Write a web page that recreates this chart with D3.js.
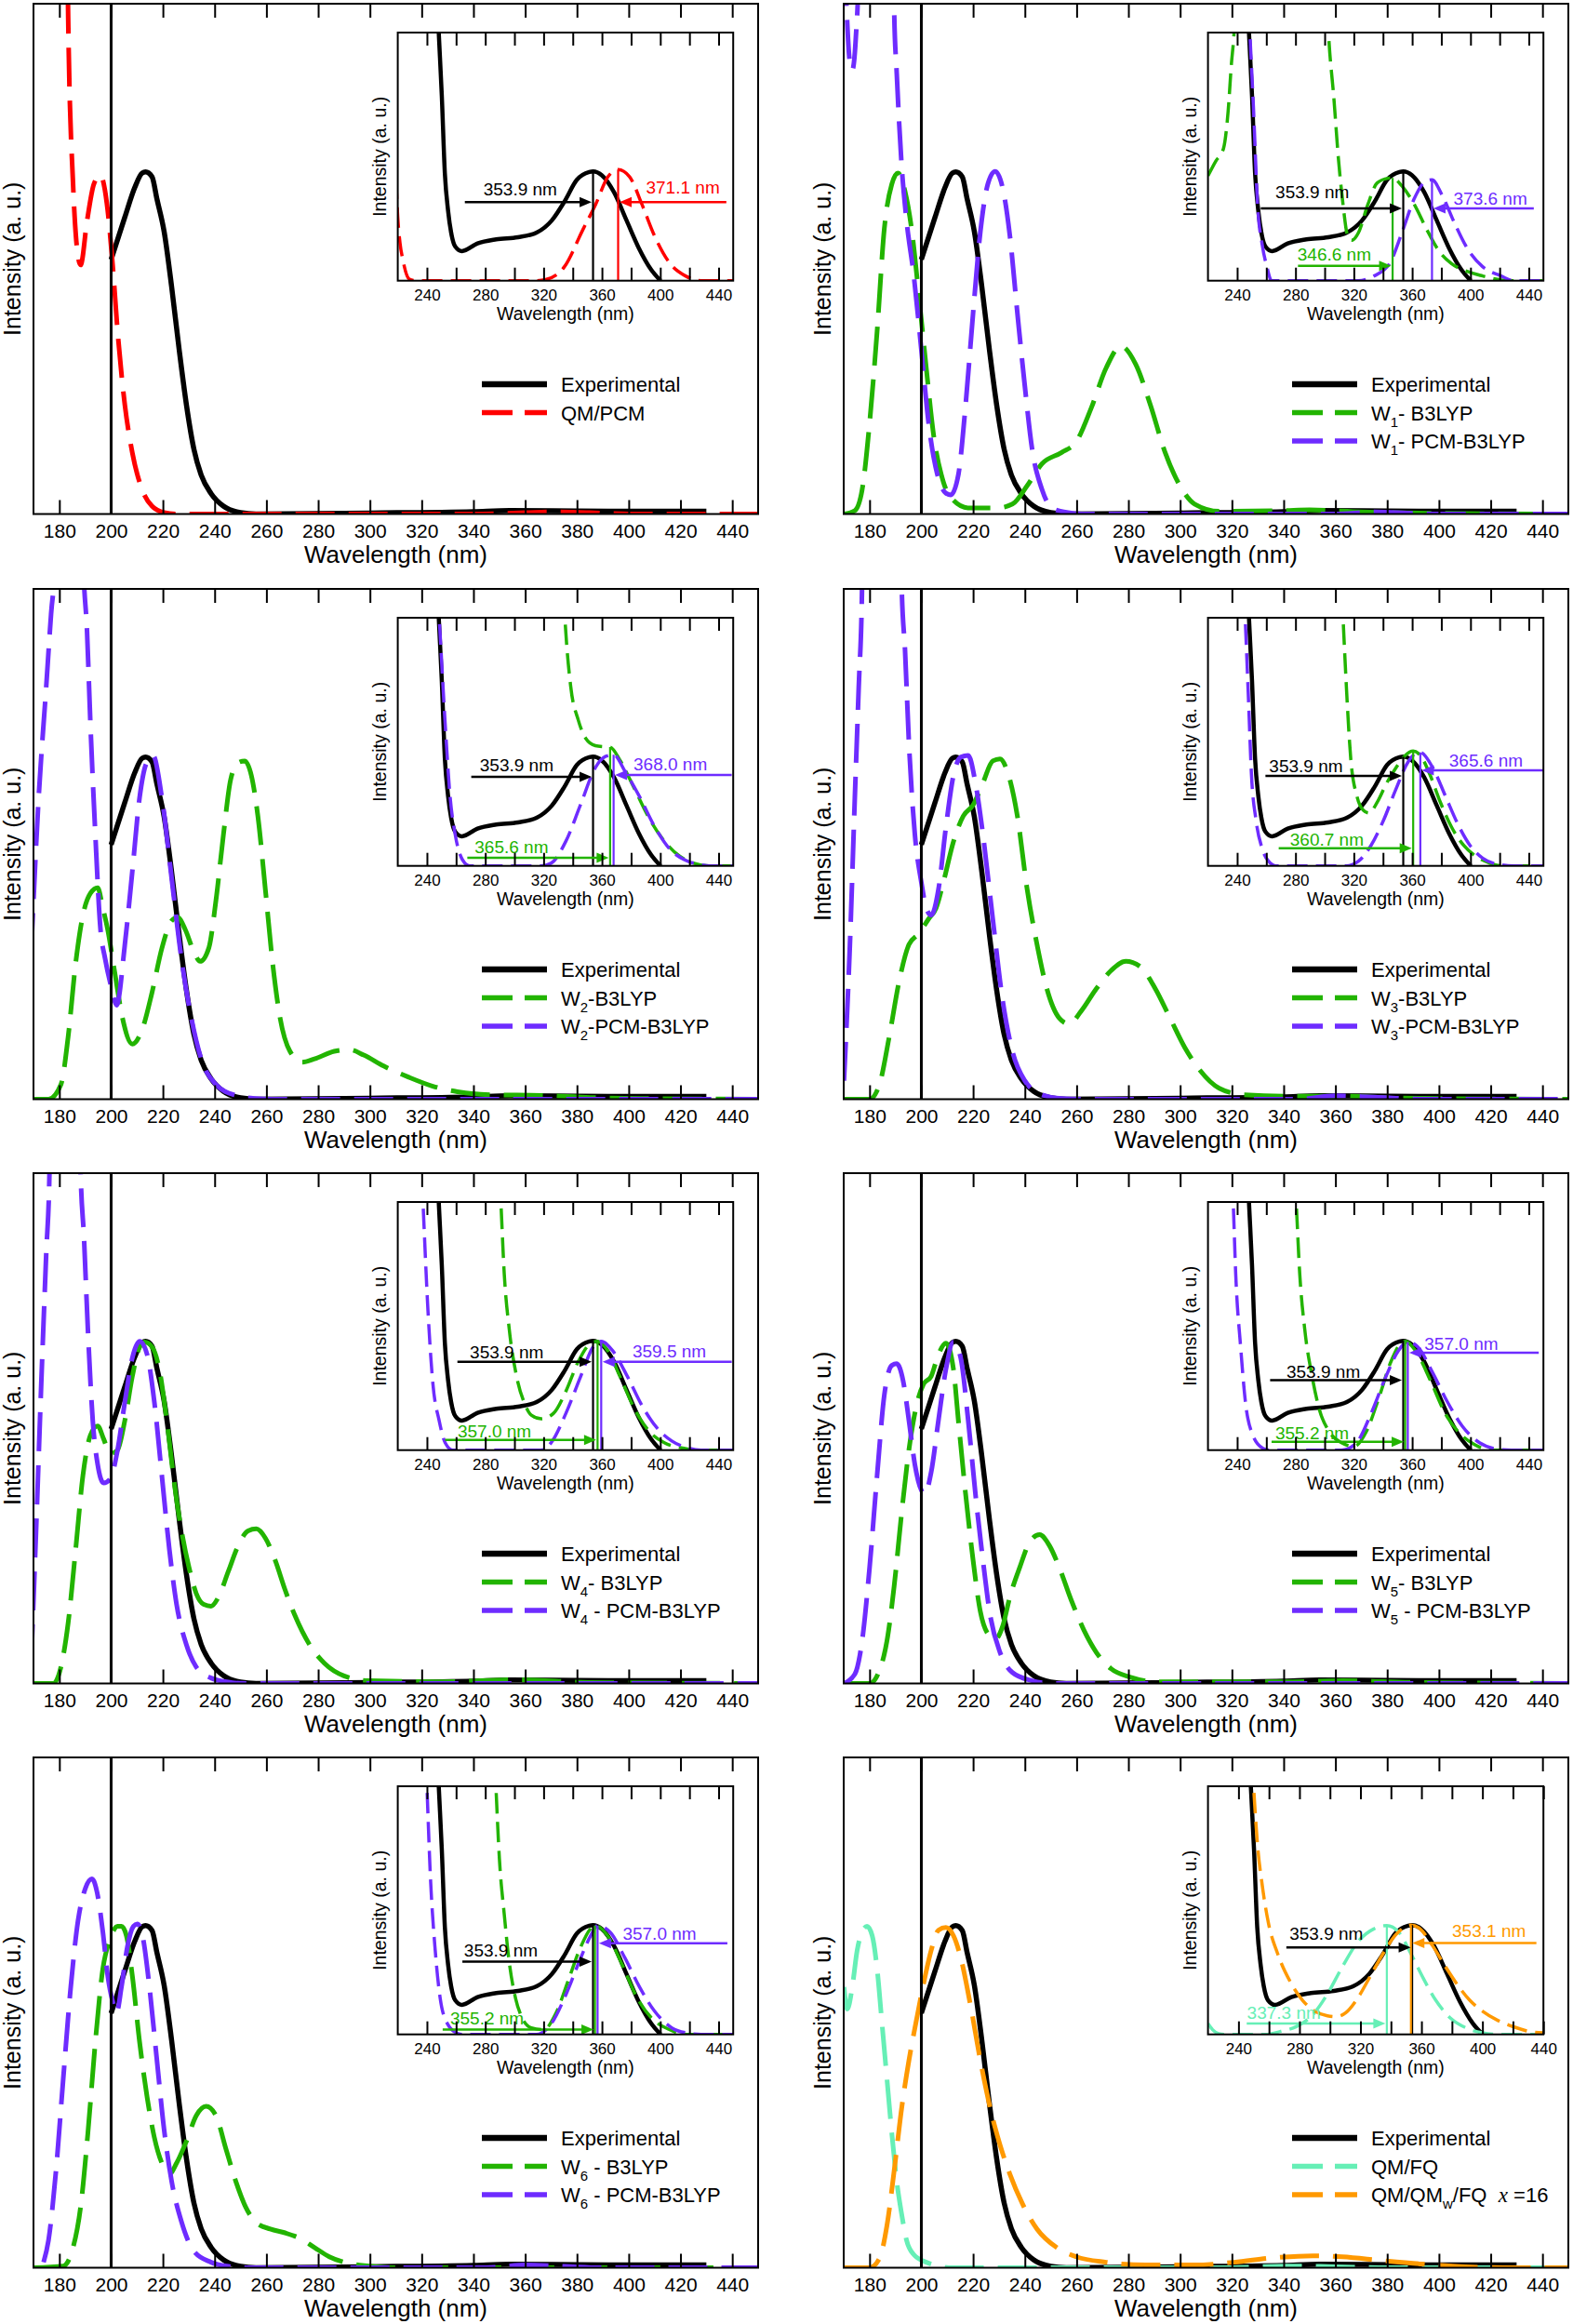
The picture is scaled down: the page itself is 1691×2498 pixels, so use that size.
<!DOCTYPE html>
<html><head><meta charset="utf-8">
<script src="https://cdn.jsdelivr.net/npm/d3@7"></script>
<style>body{margin:0;background:#fff;} svg{display:block;} text{font-family:"Liberation Sans",Arial,Helvetica,sans-serif;white-space:pre;}</style>
</head><body><svg id="c" width="1691" height="2498"></svg>
<script>
// ---------------- DATA (wavelength nm, normalised intensity) ----------------
const tickMain = [180,200,220,240,260,280,300,320,340,360,380,400,420,440];
const tickInset = [240,260,280,300,320,340,360,380,400,420,440];

const expMain = [[200,0.744],[205.3,0.868],[209.1,0.954],[212,0.997],[213.3,1.0],[215.8,0.986],[217.7,0.921],[220.5,0.825],[223.4,0.663],[226.3,0.48],[229.1,0.319],[232,0.189],[234.8,0.114],[238.6,0.06],[243.4,0.023],[250,0.004],[256,0.0],[300,0.003],[340,0.007],[354,0.01],[380,0.009],[410,0.008],[430,0.008]];
const expInset = [[244,3.5],[248.1,2.27],[250.2,1.69],[252.3,0.98],[254.5,0.64],[256.6,0.44],[259.4,0.312],[264,0.27],[274.7,0.341],[287.5,0.378],[302.4,0.398],[315.2,0.44],[325.8,0.554],[334.3,0.724],[342.8,0.923],[351.3,0.994],[353.9,1.0],[359.8,0.966],[368.3,0.809],[376.8,0.554],[385.3,0.298],[393.8,0.099],[400.2,0.0]];

const qmpcmMain = [[181,4],[183.4,1.454],[185.3,0.964],[186.9,0.771],[188.2,0.728],[190.7,0.857],[193.3,0.964],[195.8,0.991],[198.3,0.911],[200.6,0.728],[202.5,0.534],[205.3,0.319],[208.2,0.179],[212,0.071],[215.8,0.023],[220.5,0.004],[225,0],[340,0],[360,0.004],[371,0.006],[385,0.004],[400,0],[450,0]];
const qmpcmInset = [[218,1.2],[220,0.58],[221.5,0.35],[223.6,0.185],[227.9,0.014],[232,0],[315,0],[321.5,0.01],[334.3,0.128],[347,0.469],[355.6,0.696],[364.1,0.95],[371.1,1.017],[379,0.95],[387.5,0.696],[396,0.412],[406.7,0.157],[417.3,0.043],[428,0],[450,0]];

const w1B3Main = [[170,0],[174.3,0.01],[177.1,0.07],[180,0.266],[182.9,0.534],[185.7,0.835],[188.6,0.965],[191,0.997],[193.7,0.943],[196.2,0.835],[199,0.642],[201.9,0.427],[204.7,0.233],[208.5,0.094],[212.4,0.04],[218,0.018],[229.5,0.018],[235.2,0.029],[240.9,0.083],[246.6,0.147],[254.2,0.18],[259.9,0.212],[265.6,0.309],[271.4,0.427],[277.1,0.491],[282.8,0.438],[288.5,0.319],[294.2,0.18],[299.9,0.083],[305.6,0.029],[315.1,0.008],[340,0.01],[350,0.012],[370,0.006],[400,0.002],[450,0]];
const w1PcmMain = [[170.5,1.6],[172.4,1.319],[173.3,1.298],[174.7,1.395],[175.8,1.6],[177,2.5],[188.5,2.5],[189.5,1.47],[190.5,1.287],[192.4,1.018],[194.3,0.857],[197.1,0.696],[200,0.48],[202.8,0.266],[206.6,0.104],[209.5,0.061],[211.4,0.056],[214.3,0.115],[217.1,0.319],[220,0.588],[222.8,0.825],[225.7,0.965],[228.5,1.002],[231.4,0.954],[234.2,0.814],[237.1,0.588],[240,0.373],[242.8,0.19],[246.6,0.072],[250.4,0.018],[256.1,0.005],[262,0],[360,0],[375,0.006],[390,0.002],[400,0],[450,0]];
const w1B3Inset = [[220,0.96],[225.3,1.093],[230.6,1.207],[233.8,1.547],[236,1.973],[238,2.3],[240,3],[300,3],[303,2.186],[306.2,1.689],[309.4,1.122],[312.6,0.696],[315.7,0.412],[318.5,0.369],[323.2,0.44],[329.6,0.696],[336,0.894],[343.4,0.937],[346.6,0.94],[353,0.866],[361.5,0.696],[370,0.468],[378.5,0.27],[387,0.156],[397.7,0.085],[408.3,0.043],[421,0.006],[430,0],[450,0]];
const w1PcmInset = [[246,3],[248.7,2.27],[251.3,1.547],[254,0.696],[257.2,0.327],[260.4,0.128],[263.6,0],[323,0],[333.8,0.043],[344.5,0.156],[353,0.44],[361.5,0.752],[367.9,0.894],[373.6,0.923],[380.6,0.781],[389.1,0.525],[397.7,0.298],[408.3,0.128],[421,0.043],[429.6,0],[450,0]];

const w2B3Main = [[170,0],[175.8,0],[180.6,0.043],[183.4,0.183],[186.3,0.398],[189.1,0.538],[192,0.602],[194.8,0.618],[196.8,0.559],[198.7,0.495],[201.5,0.366],[204.4,0.237],[208.2,0.161],[212,0.204],[215.8,0.312],[219.6,0.441],[223.4,0.522],[225.7,0.532],[228.7,0.495],[232,0.43],[234.4,0.403],[237.7,0.441],[240.5,0.581],[243.4,0.774],[246.2,0.935],[249.1,0.984],[251.6,0.989],[254.2,0.946],[256.7,0.828],[259.6,0.613],[262.4,0.398],[265.3,0.237],[269.1,0.14],[273.8,0.108],[278.6,0.118],[286.2,0.14],[291.9,0.145],[297.6,0.129],[305.3,0.097],[314.8,0.065],[324.3,0.038],[333.8,0.022],[347.2,0.013],[366.2,0.011],[385.2,0.005],[404.3,0.002],[450,0]];
const w2PcmMain = [[169.1,0.43],[172,0.882],[174.9,1.204],[176.8,1.419],[178.7,1.6],[180,2.5],[188,2.5],[189.1,1.6],[190.7,1.366],[192,1.097],[193.9,0.774],[195.8,0.505],[197.7,0.41],[200,0.33],[202.1,0.275],[205.3,0.452],[208.2,0.667],[211,0.882],[213.5,0.98],[216.2,1.005],[219.6,0.882],[223.4,0.645],[227.2,0.409],[231,0.237],[234.8,0.118],[240.5,0.043],[248.2,0.011],[255.8,0.002],[262,0],[450,0]];
const w2B3Inset = [[332,3],[334.6,2.27],[338.6,1.64],[343.7,1.337],[348.8,1.168],[355.5,1.1],[361.6,1.09],[365.6,1.086],[372.4,0.966],[382.6,0.697],[392.7,0.428],[402.8,0.226],[413,0.091],[423.1,0.024],[433.2,0],[450,0]];
const w2PcmInset = [[245,3],[248.4,2.27],[252.5,1.303],[255.9,0.63],[259.3,0.293],[264.3,0.057],[269.4,0],[318.4,0],[325.1,0.024],[335.3,0.226],[345.4,0.562],[355.5,0.899],[362.3,1.0],[368,1.017],[375.8,0.865],[385.9,0.63],[396.1,0.36],[406.2,0.158],[416.4,0.057],[426.5,0.013],[435,0],[450,0]];

const w3B3Main = [[170,0],[180,0],[183.8,0.043],[187.6,0.183],[191.4,0.344],[195.2,0.452],[199,0.484],[202.8,0.527],[205.7,0.559],[208.5,0.634],[212.4,0.753],[216.2,0.828],[220,0.86],[223.8,0.925],[227.6,0.989],[230.4,0.995],[233.3,0.957],[237.1,0.828],[240.9,0.613],[244.7,0.452],[248.5,0.323],[253.3,0.237],[257.1,0.22],[261.8,0.258],[267.6,0.323],[273.3,0.376],[279,0.403],[284.7,0.387],[290.4,0.323],[296.1,0.237],[301.8,0.151],[307.5,0.086],[315.1,0.032],[324.7,0.013],[343.7,0.009],[362.7,0.009],[381.8,0.004],[400.8,0.002],[450,0]];
const w3PcmMain = [[170.1,0.054],[172.4,0.452],[174.3,0.882],[175.8,1.204],[177.1,1.5],[178.5,2.5],[191,2.5],[192.4,1.5],[193.7,1.312],[195.2,1.043],[197.5,0.774],[200,0.634],[201.9,0.559],[203.8,0.538],[206.6,0.613],[209.5,0.796],[212.4,0.946],[215.2,1.0],[218.1,1.005],[220.9,0.925],[223.8,0.774],[227.6,0.527],[231.4,0.29],[235.2,0.14],[240,0.054],[246.6,0.013],[254.2,0.002],[262,0],[345,0],[360,0.01],[375,0.006],[395,0],[450,0]];
const w3B3Inset = [[310,3],[312.6,2.27],[314.7,1.689],[317.9,0.98],[322.1,0.639],[326.4,0.511],[330.6,0.483],[336,0.582],[342.3,0.752],[348.7,0.894],[355.1,1.008],[360.7,1.05],[365.7,1.008],[372.1,0.838],[378.5,0.61],[387,0.355],[395.5,0.185],[404,0.085],[412.6,0.028],[421,0],[450,0]];
const w3PcmInset = [[243,3],[245.5,2.27],[247.7,1.547],[249.8,0.838],[253,0.412],[257.2,0.156],[261.5,0.043],[266.8,0],[314.7,0],[323.2,0.043],[331.7,0.185],[340.2,0.412],[348.7,0.696],[357.2,0.951],[363.6,1.036],[365.6,1.038],[374.3,0.894],[382.8,0.639],[391.3,0.383],[399.8,0.185],[408.3,0.071],[418.9,0.014],[429.6,0],[450,0]];

const w4B3Main = [[170,0],[177.7,0],[180.6,0.048],[183.4,0.177],[186.3,0.392],[189.1,0.608],[192,0.726],[194.8,0.753],[197.1,0.715],[199.6,0.672],[202.5,0.683],[205.3,0.769],[208.2,0.898],[211,0.984],[212.9,0.998],[215.8,0.984],[218.6,0.919],[221.5,0.769],[224.4,0.586],[227.2,0.446],[230.1,0.339],[232.9,0.263],[235.8,0.231],[238.6,0.226],[241.5,0.253],[245.3,0.328],[249.1,0.403],[252.9,0.446],[256.1,0.452],[259.6,0.425],[263.4,0.36],[267.2,0.274],[271,0.199],[276.7,0.113],[282.4,0.059],[290,0.022],[299.6,0.008],[328.1,0.005],[356.7,0.011],[385.2,0.003],[450,0]];
const w4PcmMain = [[169.1,0.059],[171,0.446],[173,0.876],[174.9,1.253],[176.2,1.5],[177.5,2.5],[187,2.5],[188.2,1.5],[189.5,1.306],[191,1.038],[192.9,0.769],[194.8,0.64],[197.1,0.586],[199.6,0.597],[202.5,0.683],[205.3,0.823],[208.2,0.952],[211,1.0],[213.9,0.962],[216.7,0.823],[219.6,0.608],[222.5,0.392],[225.3,0.231],[229.1,0.113],[232.9,0.048],[238.6,0.016],[246.2,0.003],[252,0],[450,0]];
const w4B3Inset = [[288,3],[290.7,2.27],[293,1.616],[296.4,1.111],[301.5,0.673],[306.6,0.438],[311.6,0.32],[318.4,0.286],[326.8,0.337],[335.3,0.539],[343.7,0.808],[352.2,0.976],[357,0.995],[364,0.909],[372.4,0.673],[382.6,0.37],[392.7,0.168],[402.8,0.067],[416.4,0.017],[425,0],[450,0]];
const w4PcmInset = [[235,3],[237.3,2.27],[240.7,1.279],[244.1,0.606],[248.4,0.269],[252.5,0.067],[257.6,0],[318.4,0],[325.1,0.067],[335.3,0.337],[345.4,0.673],[353.9,0.943],[359.5,0.995],[367.4,0.909],[377.5,0.673],[387.6,0.404],[397.8,0.202],[407.9,0.084],[419.7,0.017],[428,0],[450,0]];

const w5B3Main = [[170,0],[180,0],[183.8,0.038],[186.7,0.124],[189.5,0.285],[192.4,0.5],[195.2,0.683],[198.1,0.812],[200.9,0.876],[203.8,0.898],[206.6,0.962],[209.5,0.995],[212.4,0.919],[214.3,0.769],[217.1,0.554],[220,0.36],[222.8,0.21],[225.7,0.145],[228.5,0.129],[231.4,0.167],[234.2,0.253],[238,0.339],[241.9,0.414],[245.7,0.435],[249.5,0.403],[253.3,0.339],[258,0.242],[262.8,0.156],[267.6,0.091],[273.3,0.043],[280.9,0.018],[290.4,0.005],[343.7,0.005],[362.7,0.008],[390,0.003],[450,0]];
const w5PcmMain = [[170.1,0],[174.3,0.027],[177.1,0.124],[180,0.339],[182.9,0.608],[185.7,0.844],[188.6,0.93],[190.5,0.935],[192.9,0.887],[195.2,0.769],[197.5,0.64],[200,0.565],[201.3,0.554],[203.8,0.618],[206.6,0.769],[209.5,0.919],[212.4,0.998],[215.2,0.952],[218.1,0.769],[220.9,0.554],[223.8,0.36],[226.6,0.199],[230.4,0.091],[235.2,0.032],[242.8,0.008],[250,0],[450,0]];
const w5B3Inset = [[278,3],[280.5,2.27],[282.9,1.616],[286.3,1.111],[291.4,0.673],[296.4,0.37],[303.2,0.168],[311.6,0.067],[320.1,0.034],[328.5,0.168],[337,0.471],[345.4,0.808],[352.2,0.976],[355.2,0.995],[362.3,0.909],[372.4,0.64],[382.6,0.337],[392.7,0.152],[402.8,0.051],[415,0],[450,0]];
const w5PcmInset = [[235,3],[237.3,2.27],[239,1.616],[242.4,0.943],[245.7,0.438],[250.8,0.135],[257.6,0.017],[262,0],[311.6,0],[321.8,0.067],[331.9,0.337],[342,0.673],[350.5,0.909],[357,0.99],[364,0.943],[374.1,0.707],[384.3,0.438],[394.4,0.219],[406.2,0.067],[419.7,0.007],[428,0],[450,0]];

const w6B3Main = [[170,0],[181.5,0.005],[185.3,0.059],[188.2,0.177],[191,0.392],[193.9,0.66],[196.8,0.874],[199.6,0.96],[202.5,0.998],[204,0.998],[205.9,0.971],[208.2,0.853],[211,0.66],[213.9,0.499],[216.7,0.381],[219.6,0.306],[222.5,0.274],[225.3,0.306],[229.1,0.37],[232.9,0.445],[236.7,0.472],[240.5,0.445],[244.3,0.349],[248.2,0.252],[252,0.177],[255.8,0.134],[261.5,0.113],[267.2,0.102],[272.9,0.086],[278.6,0.059],[284.3,0.032],[290,0.016],[299.6,0.005],[310,0],[450,0]];
const w6PcmMain = [[173.9,0.016],[175.8,0.08],[178.7,0.284],[181.5,0.553],[184.4,0.821],[187.2,1.014],[190.1,1.11],[192.6,1.137],[194.8,1.089],[196.8,0.982],[198.7,0.853],[200.6,0.778],[202.1,0.746],[204,0.821],[206.3,0.939],[208.6,0.998],[210.1,1.005],[212.4,0.96],[214.8,0.821],[217.7,0.606],[220.5,0.402],[223.4,0.252],[227.2,0.134],[232,0.048],[238.6,0.016],[246.2,0.003],[252,0],[345,0],[360,0.008],[375,0.004],[390,0],[450,0]];
const w6B3Inset = [[285,3],[287.3,2.27],[289.7,1.605],[293,1.101],[296.4,0.665],[300.8,0.329],[304.9,0.161],[311.6,0.06],[320.1,0.044],[328.5,0.195],[337,0.497],[345.4,0.799],[352.2,0.967],[355.2,0.995],[364,0.9],[374.1,0.631],[384.3,0.329],[394.4,0.144],[406.2,0.044],[418,0],[450,0]];
const w6PcmInset = [[238,3],[240,2.27],[242.4,1.437],[245.7,0.766],[249.1,0.329],[254.2,0.094],[260.9,0.01],[265,0],[315,0],[325.1,0.094],[335.3,0.363],[345.4,0.698],[352.2,0.9],[357,0.995],[365.7,0.934],[375.8,0.698],[385.9,0.43],[396.1,0.212],[407.9,0.06],[419.7,0.01],[428,0],[450,0]];

const fqMain = [[170.1,0.821],[171.4,0.756],[173.3,0.821],[175.2,0.928],[177.1,0.982],[179,0.998],[181,0.971],[182.9,0.874],[184.8,0.714],[186.7,0.553],[188.6,0.392],[190.5,0.252],[192.4,0.156],[194.3,0.08],[197.1,0.038],[201.9,0.016],[206.6,0.005],[212,0],[320,0],[340,0.005],[360,0.003],[380,0],[450,0]];
const qmwMain = [[170,0],[180,0],[183.8,0.027],[186.7,0.123],[189.5,0.284],[192.4,0.467],[195.2,0.606],[198.1,0.724],[200.9,0.832],[203.8,0.928],[206.6,0.987],[209.5,0.995],[212.4,0.971],[215.2,0.907],[219,0.767],[222.8,0.606],[226.6,0.467],[230.4,0.359],[234.2,0.274],[239,0.188],[244.7,0.113],[252.3,0.059],[259.9,0.032],[271.4,0.016],[286.6,0.008],[305.6,0.008],[320.8,0.016],[336.1,0.029],[351.3,0.035],[362.7,0.032],[377.9,0.021],[393.2,0.011],[410.3,0.003],[425,0],[450,0]];
const fqInset = [[220,0.099],[223,0.043],[227.1,0.006],[232,0],[257.6,0],[267.8,0.028],[277.9,0.071],[288.1,0.17],[298.3,0.369],[308.4,0.625],[318.6,0.852],[328.7,0.965],[337.3,0.995],[345,0.937],[353.1,0.738],[361.3,0.511],[369.4,0.312],[379.6,0.142],[389.7,0.057],[399.9,0.014],[410,0],[440,0]];
const qmwInset = [[247,3],[249.9,2.27],[252.5,1.732],[255.6,1.363],[259.6,1.022],[265.7,0.738],[273.9,0.483],[282,0.312],[290.1,0.213],[298.3,0.17],[304.3,0.162],[310.4,0.199],[318.6,0.341],[326.7,0.539],[334.8,0.738],[343,0.909],[351.1,0.994],[353.1,1.0],[359.2,0.965],[367.4,0.809],[375.5,0.625],[383.6,0.454],[391.7,0.312],[399.9,0.213],[410,0.128],[420.2,0.071],[430.4,0.028],[440,0.014]];

// peak annotations: [peak nm, line top, arrow start nm, arrow level, label x, label y, text]
const expPeak = 353.9;
const expAnn = [
  [266,0.719,304,0.78],[256.2,0.662,291.5,0.752],[270.4,0.815,301.5,0.865],[259.4,0.823,287.2,0.857],
  [260.9,0.808,294.7,0.842],[262.6,0.64,299.1,0.66],[264.3,0.665,290.7,0.709],[271.4,0.795,297.6,0.866]];

const C = {exp:"#000000", red:"#ff0000", green:"#22b400", purple:"#6e2cff", mint:"#66efb6", orange:"#ff9900"};

const panels = [
 {col:0,row:0,insetMax:450,series:[
   {main:qmpcmMain,inset:qmpcmInset,color:C.red,label:["QM/PCM"],ann:[371.1,1.017,445.3,0.719,415.5,0.795,"371.1 nm"]}]},
 {col:1,row:0,insetMax:450,series:[
   {main:w1B3Main,inset:w1B3Inset,color:C.green,label:["W",{sub:"1"},"- B3LYP"],ann:[346.6,0.94,281.7,0.136,306.6,0.185,"346.6 nm"]},
   {main:w1PcmMain,inset:w1PcmInset,color:C.purple,label:["W",{sub:"1"},"- PCM-B3LYP"],ann:[373.6,0.923,443.4,0.662,413.6,0.696,"373.6 nm"]}]},
 {col:0,row:1,insetMax:450,series:[
   {main:w2B3Main,inset:w2B3Inset,color:C.green,label:["W",{sub:"2"},"-B3LYP"],ann:[365.6,1.086,267.7,0.074,298,0.118,"365.6 nm"]},
   {main:w2PcmMain,inset:w2PcmInset,color:C.purple,label:["W",{sub:"2"},"-PCM-B3LYP"],ann:[368.0,1.017,449,0.832,406.9,0.875,"368.0 nm"]}]},
 {col:1,row:1,insetMax:450,series:[
   {main:w3B3Main,inset:w3B3Inset,color:C.green,label:["W",{sub:"3"},"-B3LYP"],ann:[360.7,1.05,268.5,0.162,301.5,0.185,"360.7 nm"]},
   {main:w3PcmMain,inset:w3PcmInset,color:C.purple,label:["W",{sub:"3"},"-PCM-B3LYP"],ann:[365.6,1.038,450,0.874,410.6,0.909,"365.6 nm"]}]},
 {col:0,row:2,insetMax:450,series:[
   {main:w4B3Main,inset:w4B3Inset,color:C.green,label:["W",{sub:"4"},"- B3LYP"],ann:[357.0,0.995,252.5,0.094,286.3,0.118,"357.0 nm"]},
   {main:w4PcmMain,inset:w4PcmInset,color:C.purple,label:["W",{sub:"4"}," - PCM-B3LYP"],ann:[359.5,0.995,449,0.808,406.2,0.848,"359.5 nm"]}]},
 {col:1,row:2,insetMax:450,series:[
   {main:w5B3Main,inset:w5B3Inset,color:C.green,label:["W",{sub:"5"},"- B3LYP"],ann:[355.2,0.995,263.6,0.077,291.4,0.101,"355.2 nm"]},
   {main:w5PcmMain,inset:w5PcmInset,color:C.purple,label:["W",{sub:"5"}," - PCM-B3LYP"],ann:[357.0,0.99,446.8,0.892,393.7,0.916,"357.0 nm"]}]},
 {col:0,row:3,insetMax:450,series:[
   {main:w6B3Main,inset:w6B3Inset,color:C.green,label:["W",{sub:"6"}," - B3LYP"],ann:[355.2,0.995,250.8,0.044,281.2,0.094,"355.2 nm"]},
   {main:w6PcmMain,inset:w6PcmInset,color:C.purple,label:["W",{sub:"6"}," - PCM-B3LYP"],ann:[357.0,0.995,446,0.833,399.5,0.866,"357.0 nm"]}]},
 {col:1,row:3,insetMax:440,series:[
   {main:fqMain,inset:fqInset,color:C.mint,label:["QM/FQ"],ann:[337.3,0.995,245.4,0.099,269.8,0.142,"337.3 nm"]},
   {main:qmwMain,inset:qmwInset,color:C.orange,label:["QM/QM",{sub:"w"},"/FQ  ",{it:"x"}," =16"],ann:[353.1,1.0,435.4,0.835,404.3,0.894,"353.1 nm"]}]}
];

// ---------------- LAYOUT ----------------
const FONT = '"Liberation Sans", Arial, Helvetica, sans-serif';
const colX = [36, 907], rowY = [4, 633, 1261, 1889];
const PW = 779, PH = 548.5;
const INS = {x: 391.6, y: 31, w: 360.6, h: 266.7};
const svg = d3.select("#c");
const defs = svg.append("defs");

function axes(g, x, h, vals, fmt, len, fs, labY) {
  const b = g.append("g").attr("transform", `translate(0,${h})`)
    .call(d3.axisBottom(x).tickValues(vals).tickSizeInner(-len).tickSizeOuter(0).tickFormat(fmt));
  b.select(".domain").remove();
  b.selectAll("line").attr("stroke", "#000").attr("stroke-width", 2);
  b.selectAll("text").attr("dy", null).attr("y", labY).attr("font-size", fs)
    .attr("font-family", FONT).attr("fill", "#000");
  const t = g.append("g")
    .call(d3.axisTop(x).tickValues(vals).tickSizeInner(-len).tickSizeOuter(0).tickFormat(""));
  t.select(".domain").remove();
  t.selectAll("line").attr("stroke", "#000").attr("stroke-width", 2);
}

function richText(t, parts, fs) {
  let shift = 0;
  parts.forEach(p => {
    if (typeof p === "string") {
      t.append("tspan").attr("dy", -shift).text(p); shift = 0;
    } else if (p.sub) {
      t.append("tspan").attr("dy", 7 - shift).attr("font-size", fs * 0.68).text(p.sub); shift = 7;
    } else if (p.it) {
      t.append("tspan").attr("dy", -shift).attr("font-family", '"Liberation Serif", "Times New Roman", serif')
        .attr("font-style", "italic").attr("font-size", fs * 1.05).text(p.it); shift = 0;
    }
  });
}

function arrowHead(g, tipX, y, dir, color) {
  const L = 13, Hw = 5.5;
  g.append("path")
    .attr("d", `M${tipX},${y}L${tipX - dir * L},${y - Hw}L${tipX - dir * L},${y + Hw}Z`)
    .attr("fill", color);
}

panels.forEach((p, pi) => {
  const g = svg.append("g").attr("transform", `translate(${colX[p.col]},${rowY[p.row]})`);
  const x = d3.scaleLinear().domain([170, 450]).range([0, PW]);
  const y = d3.scaleLinear().domain([0, 1.492]).range([PH, 0]);
  const cid = "clipM" + pi;
  defs.append("clipPath").attr("id", cid).append("rect").attr("width", PW).attr("height", PH);
  const line = d3.line().x(d => x(d[0])).y(d => y(d[1])).curve(d3.curveMonotoneX);

  const plot = g.append("g").attr("clip-path", `url(#${cid})`);
  plot.append("path").datum(expMain).attr("d", line).attr("fill", "none")
    .attr("stroke", C.exp).attr("stroke-width", 5.5).attr("stroke-linejoin", "round");
  p.series.forEach(s => {
    plot.append("path").datum(s.main).attr("d", line).attr("fill", "none")
      .attr("stroke", s.color).attr("stroke-width", 5).attr("stroke-dasharray", "42,15");
  });
  plot.append("line").attr("x1", x(200)).attr("x2", x(200)).attr("y1", y(0)).attr("y2", 0)
    .attr("stroke", "#000").attr("stroke-width", 3);

  // axes + frame
  axes(g, x, PH, tickMain, d3.format("d"), 15, 21, 25.3);
  g.append("rect").attr("width", PW).attr("height", PH).attr("fill", "none")
    .attr("stroke", "#000").attr("stroke-width", 2);
  g.append("text").attr("x", PW / 2).attr("y", PH + 52).attr("text-anchor", "middle")
    .attr("font-size", 26).text("Wavelength (nm)");
  g.append("text").attr("transform", `translate(-14,${PH / 2}) rotate(-90)`)
    .attr("text-anchor", "middle").attr("font-size", 25).text("Intensity (a. u.)");

  // legend
  const lg = g.append("g");
  const rows = [{label: ["Experimental"], color: C.exp, solid: true}]
    .concat(p.series.map(s => ({label: s.label, color: s.color})));
  rows.forEach((r, i) => {
    const yy = 409 + i * 30.5;
    lg.append("line").attr("x1", 482).attr("x2", 552).attr("y1", yy).attr("y2", yy)
      .attr("stroke", r.color).attr("stroke-width", r.solid ? 6.5 : 5.5)
      .attr("stroke-dasharray", r.solid ? null : "33,13");
    const t = lg.append("text").attr("x", 567).attr("y", yy + 8).attr("font-size", 22);
    richText(t, r.label, 22);
  });

  // inset
  const ig = g.append("g").attr("transform", `translate(${INS.x},${INS.y})`);
  const xi = d3.scaleLinear().domain([220, p.insetMax]).range([0, INS.w]);
  const yi = d3.scaleLinear().domain([0, 2.27]).range([INS.h, 0]);
  const iid = "clipI" + pi;
  defs.append("clipPath").attr("id", iid).append("rect").attr("width", INS.w).attr("height", INS.h);
  ig.append("rect").attr("width", INS.w).attr("height", INS.h).attr("fill", "#fff");
  const il = d3.line().x(d => xi(d[0])).y(d => yi(d[1])).curve(d3.curveMonotoneX);
  const ip = ig.append("g").attr("clip-path", `url(#${iid})`);
  ip.append("path").datum(expInset).attr("d", il).attr("fill", "none")
    .attr("stroke", C.exp).attr("stroke-width", 4.5).attr("stroke-linejoin", "round");
  p.series.forEach(s => {
    ip.append("path").datum(s.inset).attr("d", il).attr("fill", "none")
      .attr("stroke", s.color).attr("stroke-width", 3.5).attr("stroke-dasharray", "22,9");
  });
  // annotations
  const ea = expAnn[pi];
  const anns = [{peak: expPeak, top: 1.0, from: ea[0], ay: ea[1], lx: ea[2], ly: ea[3], text: "353.9 nm", color: C.exp}]
    .concat(p.series.map(s => ({peak: s.ann[0], top: s.ann[1], from: s.ann[2], ay: s.ann[3],
      lx: s.ann[4], ly: s.ann[5], text: s.ann[6], color: s.color})));
  anns.forEach(a => {
    ip.append("line").attr("x1", xi(a.peak)).attr("x2", xi(a.peak)).attr("y1", yi(0)).attr("y2", yi(a.top))
      .attr("stroke", a.color).attr("stroke-width", 2.2);
  });
  anns.forEach(a => {
    const dir = a.from < a.peak ? 1 : -1;
    const tip = xi(a.peak) - dir * 1.5;
    ip.append("line").attr("x1", xi(a.from)).attr("x2", tip - dir * 10).attr("y1", yi(a.ay)).attr("y2", yi(a.ay))
      .attr("stroke", a.color).attr("stroke-width", 2.5);
    arrowHead(ip, tip, yi(a.ay), dir, a.color);
    ip.append("text").attr("x", xi(a.lx)).attr("y", yi(a.ly)).attr("text-anchor", "middle")
      .attr("font-size", 19).attr("fill", a.color).text(a.text);
  });
  axes(ig, xi, INS.h, tickInset, d => d % 40 === 0 ? d : "", 14, 17, 21.6);
  ig.append("rect").attr("width", INS.w).attr("height", INS.h).attr("fill", "none")
    .attr("stroke", "#000").attr("stroke-width", 2);
  ig.append("text").attr("x", INS.w / 2).attr("y", INS.h + 42).attr("text-anchor", "middle")
    .attr("font-size", 19.5).text("Wavelength (nm)");
  ig.append("text").attr("transform", `translate(-13,${INS.h / 2}) rotate(-90)`)
    .attr("text-anchor", "middle").attr("font-size", 19.5).text("Intensity (a. u.)");
});
</script></body></html>
